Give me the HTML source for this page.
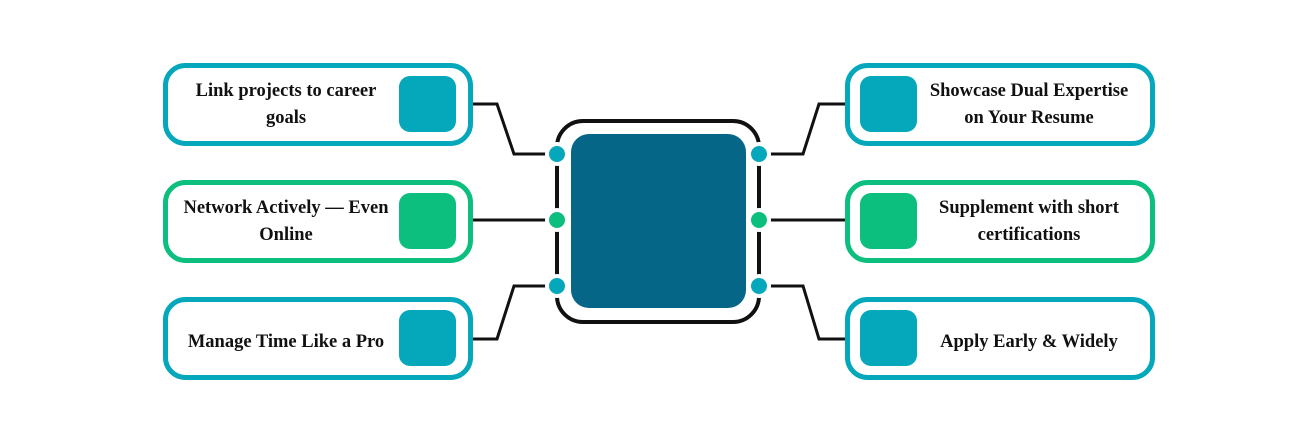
<!DOCTYPE html>
<html><head><style>
body{margin:0;background:#fff;width:1296px;height:443px;overflow:hidden}
.t{position:absolute;font-family:"Liberation Serif",serif;font-weight:bold;font-size:18.5px;line-height:27px;color:#111;text-align:center;display:flex;align-items:center;justify-content:center}
</style></head><body>
<svg width="1296" height="443" style="position:absolute;left:0;top:0">
<g fill="#fff" stroke-width="5">
<rect x="165.5" y="65.5" width="305" height="78" rx="20" stroke="#05A8BB"/>
<rect x="165.5" y="182.5" width="305" height="78" rx="20" stroke="#0DBF7E"/>
<rect x="165.5" y="299.5" width="305" height="78" rx="20" stroke="#05A8BB"/>
<rect x="847.5" y="65.5" width="305" height="78" rx="20" stroke="#05A8BB"/>
<rect x="847.5" y="182.5" width="305" height="78" rx="20" stroke="#0DBF7E"/>
<rect x="847.5" y="299.5" width="305" height="78" rx="20" stroke="#05A8BB"/>
</g>
<g stroke="none">
<rect x="399" y="76" width="57" height="56" rx="11" fill="#05A8BB"/>
<rect x="399" y="193" width="57" height="56" rx="11" fill="#0DBF7E"/>
<rect x="399" y="310" width="57" height="56" rx="11" fill="#05A8BB"/>
<rect x="860" y="76" width="57" height="56" rx="11" fill="#05A8BB"/>
<rect x="860" y="193" width="57" height="56" rx="11" fill="#0DBF7E"/>
<rect x="860" y="310" width="57" height="56" rx="11" fill="#05A8BB"/>
</g>
<g fill="none" stroke="#111" stroke-width="3">
<polyline points="473,104 497,104 514,154 548,154"/>
<polyline points="473,220 548,220"/>
<polyline points="473,339 497,339 514,286 548,286"/>
<polyline points="768,154 803,154 819,104 845,104"/>
<polyline points="768,220 845,220"/>
<polyline points="768,286 803,286 819,339 845,339"/>
<rect x="557" y="121" width="202" height="201" rx="26" stroke-width="4"/>
</g>
<rect x="571" y="134" width="175" height="174" rx="18" fill="#066687"/>
<g stroke="#fff" stroke-width="4">
<circle cx="557" cy="154" r="10" fill="#05A8BB"/>
<circle cx="557" cy="220" r="10" fill="#0DBF7E"/>
<circle cx="557" cy="286" r="10" fill="#05A8BB"/>
<circle cx="759" cy="154" r="10" fill="#05A8BB"/>
<circle cx="759" cy="220" r="10" fill="#0DBF7E"/>
<circle cx="759" cy="286" r="10" fill="#05A8BB"/>
</g>
</svg>
<div class="t" style="left:176px;top:65px;width:220px;height:80px">Link projects to career goals</div>
<div class="t" style="left:176px;top:182px;width:220px;height:80px">Network Actively — Even Online</div>
<div class="t" style="left:170px;top:299px;width:232px;height:86px">Manage Time Like a Pro</div>
<div class="t" style="left:918px;top:65px;width:222px;height:80px">Showcase Dual Expertise on Your Resume</div>
<div class="t" style="left:918px;top:182px;width:222px;height:80px">Supplement with short certifications</div>
<div class="t" style="left:918px;top:299px;width:222px;height:86px">Apply Early &amp; Widely</div>
</body></html>
